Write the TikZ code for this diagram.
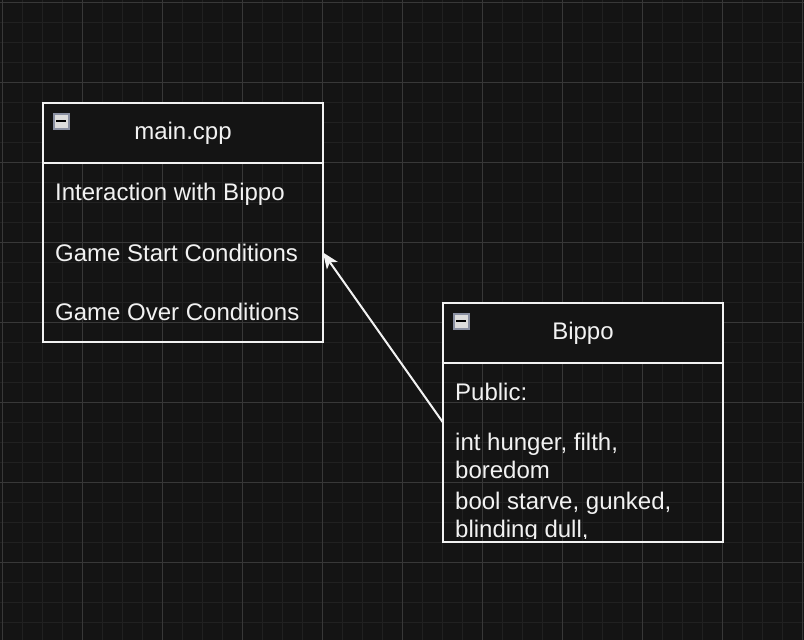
\documentclass[tikz,border=0pt]{standalone}
\usepackage{fontspec}
\setmainfont{Liberation Sans}
\usepackage{xcolor}
\usetikzlibrary{arrows.meta,positioning}
\definecolor{canvas}{HTML}{141414}
\definecolor{gridminor}{HTML}{212121}
\definecolor{gridmajor}{HTML}{383838}
\definecolor{ink}{HTML}{F2F2F2}
\definecolor{btnedge}{HTML}{8A90A2}
\definecolor{btnfill}{HTML}{DCDCDC}

\begin{document}
\begin{tikzpicture}[x=1pt,y=-1pt,
		font=\fontsize{24}{28}\selectfont,
		lanehead/.style={draw=ink,line width=2pt,fill=canvas,minimum width=280pt,minimum height=60pt,inner sep=0pt,outer sep=0pt,text=ink},
		lanebody/.style={draw=ink,line width=2pt,minimum width=280pt,minimum height=179pt,inner sep=0pt,outer sep=0pt},
		laneitem/.style={anchor=base west,inner sep=0pt,text=ink,align=left},
		collapsebtn/.style={draw=btnedge,line width=2pt,fill=btnfill,minimum size=15pt,inner sep=0pt,
			path picture={\draw[black,line width=2pt] ([xshift=-5pt]path picture bounding box.center) -- ([xshift=5pt]path picture bounding box.center);}},
		conn/.style={draw=ink,line width=2pt,-{Stealth[length=16pt,width=13pt,inset=4pt]}}]
			\useasboundingbox (0,0) rectangle (804,640);
			\fill[canvas] (0,0) rectangle (804,640);
			% grid
			\foreach \g in {2,22,...,802}
				\draw[gridminor,line width=1pt] (\g,0) -- (\g,640);
			\foreach \g in {2,22,...,642}
				\draw[gridminor,line width=1pt] (0,\g) -- (804,\g);
			\foreach \g in {2,82,...,802}
				\draw[gridmajor,line width=1pt] (\g,0) -- (\g,640);
			\foreach \g in {2,82,...,642}
				\draw[gridmajor,line width=1pt] (0,\g) -- (804,\g);

			% main.cpp
			\node[lanehead] (mainhead) at (183,133) {main.cpp};
			\node[lanebody,below=0pt of mainhead] (mainbody) {};
			\node[collapsebtn] (mainbtn) at (61,121) {};
			\node[laneitem] (interact) at (55,200) {Interaction with Bippo};
			\node[laneitem] (startcond) at (55,261) {Game Start Conditions};
			\node[laneitem] (overcond) at (55,320) {Game Over Conditions};

			% Bippo
			\node[lanehead] (bippohead) at (583,333) {Bippo};
			\node[lanebody,below=0pt of bippohead] (bippobody) {};
			\node[collapsebtn] (bippobtn) at (461,321) {};
			\node[laneitem] (public) at (455,400) {Public:};
			\begin{scope}
				\clip (444,363) rectangle (722,538);
				\node[laneitem] (ints) at (455,478) {int hunger, filth,\\boredom};
				\node[laneitem] (bools) at (455,537) {bool starve, gunked,\\blinding dull,};
			\end{scope}

			\coordinate (bipposrc) at ([yshift=30pt]bippobody.west);
			\draw[conn] (bipposrc) -- (mainbody.east);
		\end{tikzpicture}
\end{document}
